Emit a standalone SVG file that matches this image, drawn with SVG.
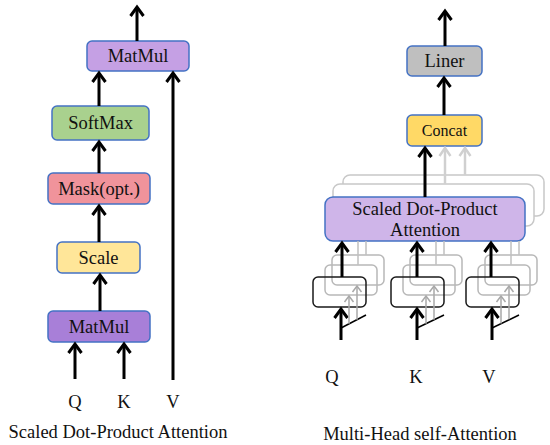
<svg xmlns="http://www.w3.org/2000/svg" width="550" height="445" viewBox="0 0 550 445">
<style>
text{font-family:"Liberation Serif","Times New Roman",serif;fill:#111;text-anchor:middle}
.t18{font-size:18.5px}
.t15{font-size:16px}
.box{stroke:#4472c4;stroke-width:1.5}
.gbox{fill:#fff;stroke:#c8c8c8;stroke-width:1.5}
.gsm{fill:none;stroke:#b8b8b8;stroke-width:1.5}
.bsm{fill:none;stroke:#1a1a1a;stroke-width:1.5}
.ar{stroke:#000;stroke-width:3;fill:none;marker-end:url(#ah)}
.ln{stroke:#000;stroke-width:1.5;fill:none}
.gl{stroke:#c0c0c0;stroke-width:1.5;fill:none}
.ga{stroke:#a8a8a8;stroke-width:1.5;fill:none;marker-end:url(#ahg)}
.gt{stroke:#d0d0d0;stroke-width:2.5;fill:none;marker-end:url(#ahl)}
</style>
<defs>
<marker id="ah" markerUnits="userSpaceOnUse" markerWidth="20" markerHeight="20" viewBox="-10 -10 20 20" refX="0" refY="0" orient="auto" overflow="visible"><path d="M-9,-6.5 L0,0 L-9,6.5" fill="none" stroke="#000" stroke-width="3"/></marker>
<marker id="ahg" markerUnits="userSpaceOnUse" markerWidth="14" markerHeight="14" viewBox="-7 -7 14 14" refX="0" refY="0" orient="auto" overflow="visible"><path d="M-6,-4.5 L0,0 L-6,4.5" fill="none" stroke="#a8a8a8" stroke-width="1.5"/></marker>
<marker id="ahl" markerUnits="userSpaceOnUse" markerWidth="16" markerHeight="16" viewBox="-8 -8 16 16" refX="0" refY="0" orient="auto" overflow="visible"><path d="M-8,-5.5 L0,0 L-8,5.5" fill="none" stroke="#d0d0d0" stroke-width="2.5"/></marker>
</defs>

<!-- Left: Scaled Dot-Product Attention -->
<g id="matmul-top"><rect class="box" x="87" y="41" width="102" height="30" rx="5" fill="#c5a0e4"/><text class="t18" x="138" y="62">MatMul</text></g>
<g id="softmax"><rect class="box" x="52" y="106" width="97" height="34" rx="5" fill="#a9d18e"/><text class="t18" x="100.5" y="129">SoftMax</text></g>
<g id="mask"><rect class="box" x="48" y="173" width="102" height="31" rx="5" fill="#f0939b"/><text class="t18" x="99" y="195">Mask(opt.)</text></g>
<g id="scale"><rect class="box" x="57" y="242" width="83" height="31" rx="5" fill="#ffe699"/><text class="t18" x="98.5" y="264">Scale</text></g>
<g id="matmul-bottom"><rect class="box" x="48" y="311" width="102" height="31" rx="5" fill="#a87fd8"/><text class="t18" x="99" y="333">MatMul</text></g>
<g id="labels-left">
<text class="t18" x="75" y="408">Q</text><text class="t18" x="124" y="408">K</text><text class="t18" x="173" y="408">V</text>
<text class="t18" x="118" y="438">Scaled Dot-Product Attention</text>
</g>

<!-- Right: Multi-Head self-Attention -->
<g id="liner"><rect class="box" x="407" y="46" width="75" height="30" rx="5" fill="#bfbfbf"/><text class="t18" x="444.5" y="67">Liner</text></g>
<g id="concat"><rect class="box" x="407" y="115" width="75" height="31" rx="5" fill="#ffd966"/><text class="t15" x="444.5" y="136">Concat</text></g>
<g id="heads-stack">
<rect class="gbox" x="343" y="175" width="201" height="41" rx="7"/>
<rect class="gbox" x="333" y="184" width="201" height="42" rx="7"/>
</g>
<g id="sdpa"><rect class="box" x="325" y="197" width="200" height="44" rx="8" fill="#cfb5e9"/><text class="t18" x="425" y="215">Scaled Dot-Product</text><text class="t18" x="425" y="236">Attention</text></g>
<g id="linear-q"><rect class="gsm" x="332" y="255" width="52" height="30" rx="5"/><rect class="gsm" x="325" y="265" width="52" height="30" rx="5"/><rect class="bsm" x="313" y="277" width="53" height="30" rx="5"/></g>
<g id="linear-k"><rect class="gsm" x="410" y="255" width="52" height="30" rx="5"/><rect class="gsm" x="403" y="265" width="52" height="30" rx="5"/><rect class="bsm" x="391" y="277" width="53" height="30" rx="5"/></g>
<g id="linear-v"><rect class="gsm" x="485" y="255" width="52" height="30" rx="5"/><rect class="gsm" x="478" y="265" width="52" height="30" rx="5"/><rect class="bsm" x="466" y="277" width="53" height="30" rx="5"/></g>
<g id="labels-right">
<text class="t18" x="332" y="383">Q</text><text class="t18" x="416" y="383">K</text><text class="t18" x="489" y="383">V</text>
<text class="t18" x="420" y="440">Multi-Head self-Attention</text>
</g>

<g id="connectors">
<!-- left -->
<path class="ar" d="M137,41 V7"/>
<path class="ar" d="M99,106 V73"/>
<path class="ar" d="M99,173 V142"/>
<path class="ar" d="M99,242 V206"/>
<path class="ar" d="M100,311 V275"/>
<path class="ar" d="M75,379 V344"/>
<path class="ar" d="M124,379 V344"/>
<path class="ar" d="M173,380 V73"/>
<!-- right top -->
<path class="ar" d="M445,46 V11"/>
<path class="ar" d="M444,115 V78"/>
<path class="gt" d="M445,184 V148"/>
<path class="gt" d="M465,175 V148"/>
<path class="ar" d="M425,197 V148"/>
<!-- gray lines from projection stacks to SDPA -->
<path class="gl" d="M358,265 V241 M366,255 V241"/>
<path class="gl" d="M436,265 V241 M444,255 V241"/>
<path class="gl" d="M511,265 V241 M519,255 V241"/>
<!-- black arrows projections to SDPA -->
<path class="ar" d="M342,277 V243"/>
<path class="ar" d="M417,277 V243"/>
<path class="ar" d="M491,277 V243"/>
<!-- inputs -->
<path class="ar" d="M341,340 V309"/>
<path class="ar" d="M417,340 V309"/>
<path class="ar" d="M492,340 V309"/>
<path class="ln" d="M341,328 L366,315"/>
<path class="ln" d="M417,328 L444,315"/>
<path class="ln" d="M492,328 L519,315"/>
<path class="ga" d="M349,323.8 V296"/>
<path class="ga" d="M357,319.7 V286"/>
<path class="ga" d="M426,323.7 V296"/>
<path class="ga" d="M434,319.8 V286"/>
<path class="ga" d="M501,323.4 V296"/>
<path class="ga" d="M509,319.2 V286"/>
</g>
</svg>
